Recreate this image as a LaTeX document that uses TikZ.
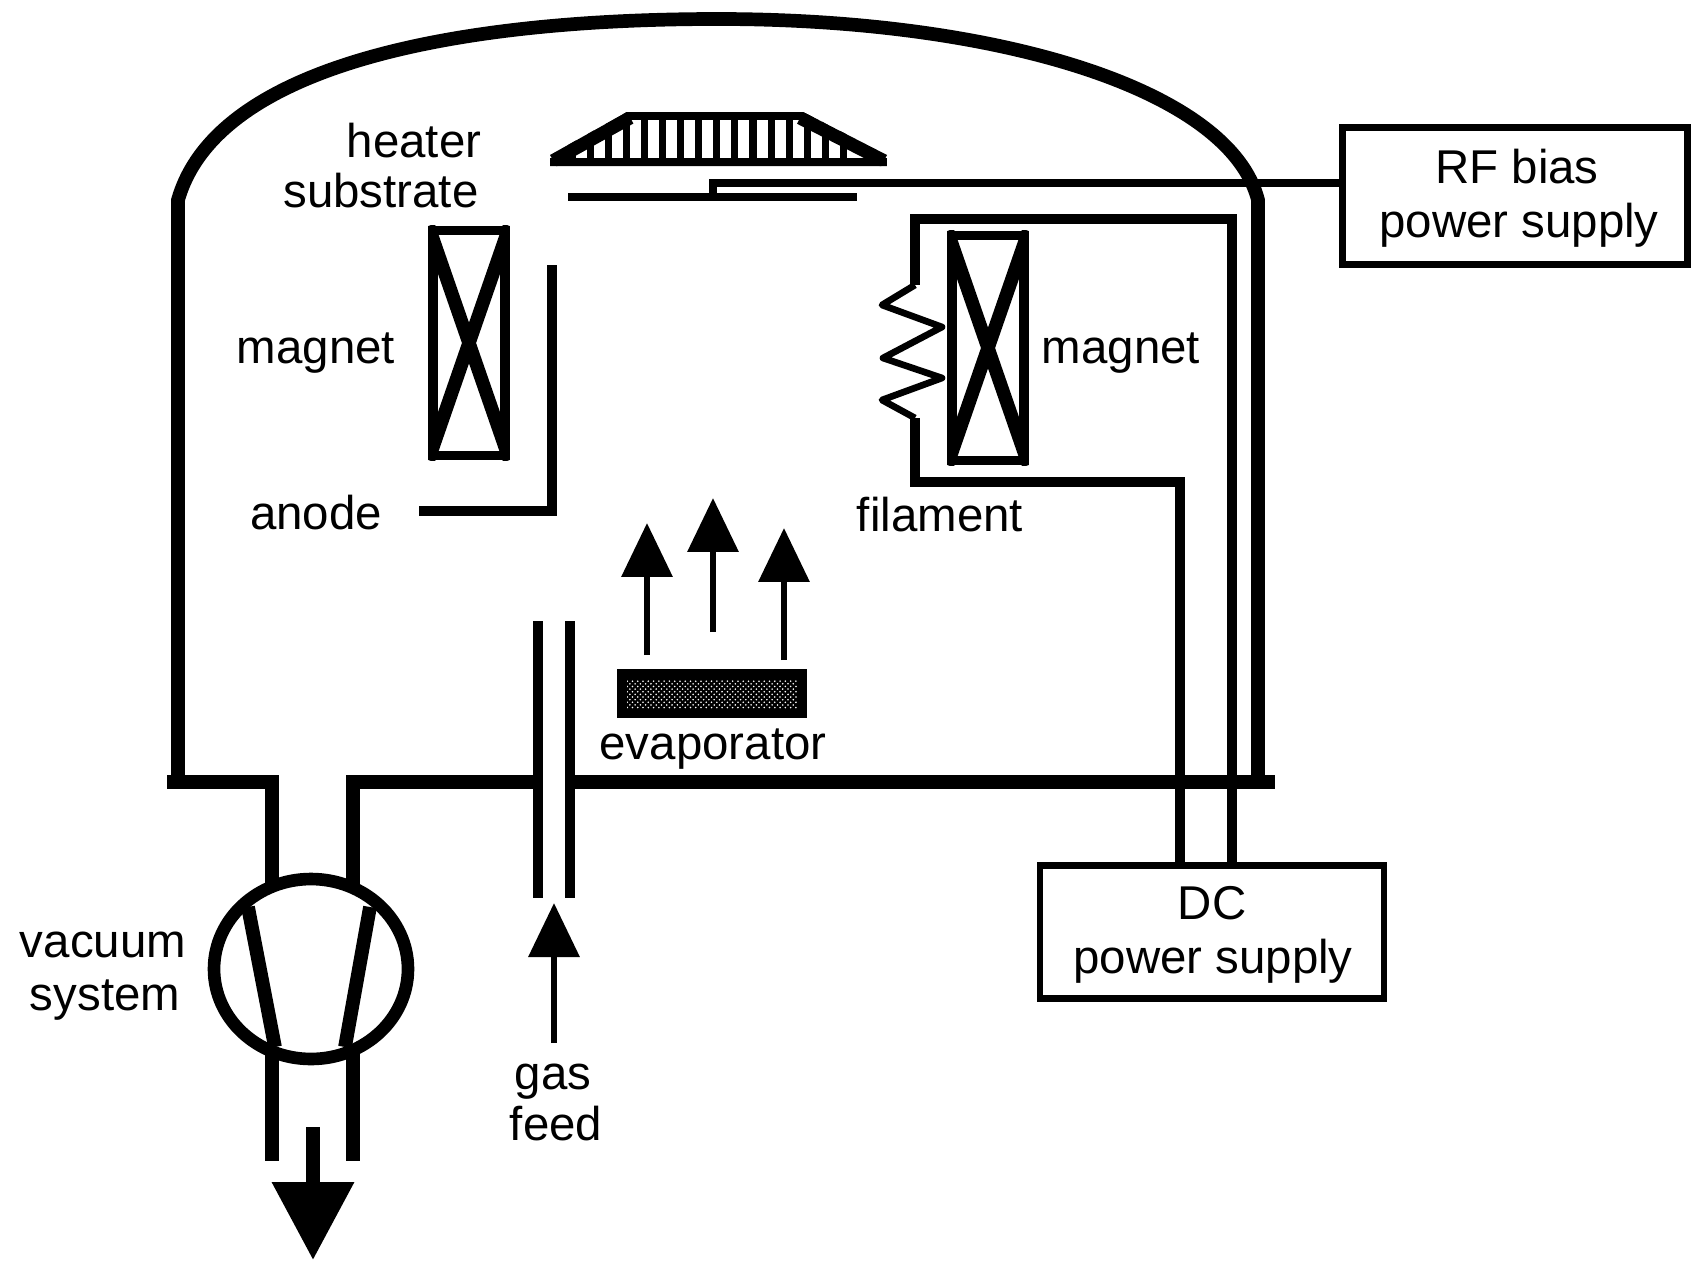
\documentclass[tikz,border=0pt]{standalone}
\usepackage{fontspec}
\setmainfont{Liberation Sans}
\usetikzlibrary{arrows.meta,patterns,shapes.geometric}

\tikzset{
  wall/.style={line width=7.8pt},
  wire/.style={line width=5.2pt},
  thinwire/.style={line width=4.4pt},
  label/.style={anchor=base,inner sep=0pt},
  supply/.style={draw,line width=3.8pt,inner sep=0pt},
  magnet/.style={draw,line width=5.2pt,minimum width=1.44cm,minimum height=4.5cm,inner sep=0pt},
  crossline/.style={line width=7.6pt},
  flow/.style={line width=3.8pt,-{Triangle[length=1.08cm,width=1cm]}}
}

\begin{document}
\begin{tikzpicture}[x=0.02cm,y=-0.02cm,font=\fontsize{27}{30.6}\selectfont,line join=miter]
  \useasboundingbox (0,0) rectangle (1693,1261);

  % Draw the chamber
  \draw[wall] (178,782) -- (178,200) .. controls (215,70) and (440,19) .. (718,19)
    .. controls (1000,19) and (1230,90) .. (1258,200) -- (1258,782);
  \draw[wall] (272,885) -- (272,782) -- (167,782);
  \draw[wall] (353,885) -- (353,782) -- (538,782);
  \draw[wall] (570,782) -- (1275,782);

  % Gas feed
  \draw[line width=5.6pt] (538,621) -- (538,898);
  \draw[line width=5.6pt] (570,621) -- (570,898);
  \coordinate (gasstart) at (554,1043);
  \coordinate (gastip) at (554,903);
  \draw[flow] (gasstart) -- (gastip);

  % Vacuum system
  \node[ellipse,draw,line width=7.2pt,minimum width=3.88cm,minimum height=3.6cm,inner sep=0pt] (pump) at (311,969) {};
  \draw[wall] (248,907) -- (275,1047);
  \draw[wall] (370,907) -- (345,1047);
  \draw[wall] (272,1047) -- (272,1161);
  \draw[wall] (353,1047) -- (353,1161);
  \coordinate (pumpstart) at (313,1127);
  \coordinate (pumptip) at (313,1260);
  \draw[wall,-{Triangle[length=1.56cm,width=1.58cm]}] (pumpstart) -- (pumptip);

  % Heater with its bars
  \begin{scope}
    \clip (550,166) -- (550,155) -- (627,112) -- (803,112) -- (887,155) -- (887,166) -- cycle;
    \foreach \barx in {0,...,15}
      \draw[line width=4pt] ({572+\barx*18.1},112) -- ({572+\barx*18.1},166);
    \draw[line width=15pt] (550,155) -- (627,112);
    \draw[line width=15pt] (803,112) -- (887,155);
    \draw[line width=9pt] (550,112) -- (887,112);
    \draw[line width=9pt] (550,166) -- (887,166);
  \end{scope}

  % Substrate and RF supply
  \node[supply,minimum width=6.9cm,minimum height=2.74cm] (rfbox) at (1515,196) {};
  \coordinate (subtap) at (713,197);
  \coordinate (rfin) at (rfbox.west |- 713,183);
  \draw[thinwire] (568,197) -- (857,197);
  \draw[thinwire] (subtap) -- (713,183) -- (rfin);

  % Magnets
  \node[magnet] (magleft) at (469,343) {};
  \node[magnet] (magright) at (988,348) {};
  \foreach \mag in {magleft,magright} {
    \begin{scope}
      \clip (\mag.north west) rectangle (\mag.south east);
      \draw[crossline] (\mag.north west) -- (\mag.south east);
      \draw[crossline] (\mag.north east) -- (\mag.south west);
    \end{scope}
  }

  % Anode
  \draw[wire] (552,265) -- (552,511) -- (419,511);

  % Filament and DC supply
  \node[supply,minimum width=6.88cm,minimum height=2.66cm] (dcbox) at (1212,932) {};
  \coordinate (dcleft) at (dcbox.north -| 1180,0);
  \coordinate (dcright) at (dcbox.north -| 1232,0);
  \draw[wire] (dcleft) -- (1180,482) -- (915,482) -- (915,418);
  \draw[wire] (915,285) -- (915,219) -- (1232,219) -- (dcright);
  \draw[line width=3.8pt,line join=round] (915,418) -- (882,400) -- (942,378)
    -- (883,358) -- (942,327) -- (882,305) -- (915,285);

  % Evaporator and rising vapour
  \fill (617,669) rectangle (807,718);
  \fill[pattern=crosshatch dots,pattern color=white] (627,680) rectangle (797,708);
  \coordinate (vapa) at (647,655);
  \coordinate (vapb) at (713,632);
  \coordinate (vapc) at (784,660);
  \draw[flow] (vapa) -- (647,523);
  \draw[flow] (vapb) -- (713,498);
  \draw[flow] (vapc) -- (784,528);

  % Labels
  \node[label] (heater) at (414,157) {heater};
  \node[label] (substrate) at (381,207) {substrate};
  \node[label] (magnetl) at (316,363) {magnet};
  \node[label] (magnetr) at (1121,363) {magnet};
  \node[label] (anode) at (316,529) {anode};
  \node[label] (filament) at (940,531) {filament};
  \node[label] (evaporator) at (713,759) {evaporator};
  \node[label] (vacuum) at (103,957) {vacuum};
  \node[label] (system) at (105,1010) {system};
  \node[label] (gas) at (553,1089) {gas};
  \node[label] (feed) at (556,1140) {feed};
  \node[label] (rfname) at (1517,183) {RF bias};
  \node[label] (rfpower) at (1519,237) {power supply};
  \node[label] (dcname) at (1212,919) {DC};
  \node[label] (dcpower) at (1213,973) {power supply};
\end{tikzpicture}
\end{document}
